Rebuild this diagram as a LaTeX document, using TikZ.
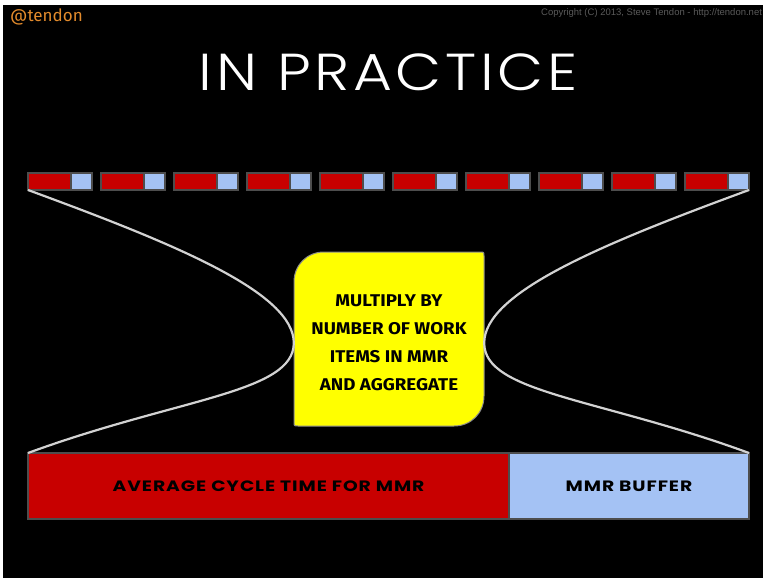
\documentclass[tikz,border=0pt]{standalone}
\usepackage{fontspec}
\usepackage{graphicx}
\usetikzlibrary{calc}
\setmainfont{Liberation Sans}
\newfontfamily\titlefont{Poppins Light}[LetterSpace=6]
\newfontfamily\labelfont{Poppins}[LetterSpace=5]
\newfontfamily\handfont{Fira Sans}
\newfontfamily\tagfont{Fira Sans}
\newcommand{\widetext}[2]{\scalebox{#1}[1]{#2}}

\definecolor{mmrred}{HTML}{C80000}
\definecolor{mmrblue}{HTML}{A4C2F4}
\definecolor{edgegray}{HTML}{4D4D4D}
\definecolor{curvegray}{HTML}{D2D2D2}
\definecolor{noteyellow}{HTML}{FFFF00}
\definecolor{notegray}{HTML}{8A8A8A}
\definecolor{tagorange}{HTML}{E38B2C}
\definecolor{copygray}{HTML}{5A5A5A}

\begin{document}
\begin{tikzpicture}[x=1pt,y=-1pt,
  cell/.style={draw=edgegray, line width=1.3pt, inner sep=0pt, outer sep=0pt, anchor=north west},
  redcell/.style={cell, fill=mmrred},
  bluecell/.style={cell, fill=mmrblue},
  barlabel/.style={font=\labelfont\bfseries\fontsize{15}{18}\selectfont, text=black},
  funnel/.style={draw=curvegray, line width=2.2pt}
]
\useasboundingbox (0,0) rectangle (765,578);
\fill[white] (0,0) rectangle (765,578);
\fill[black] (3,5) rectangle (763,578);

% header texts
\node[anchor=west, text=tagorange, font=\tagfont\fontsize{17}{20}\selectfont, inner sep=0pt] (tag) at (10,17) {@tendon};
\node[anchor=west, text=copygray, font=\fontsize{9.5}{11}\selectfont, inner sep=0pt] (copy) at (541,13) {Copyright (C) 2013, Steve Tendon - http://tendon.net};
\node[text=white, font=\titlefont\fontsize{52}{60}\selectfont, inner sep=0pt] (title) at (388,72) {\widetext{1.15}{IN PRACTICE}};

% strip of small work items
\foreach \i in {0,...,9} {
  \node[redcell, minimum width=43, minimum height=17] (r\i) at ({28+73*\i},173) {};
  \node[bluecell, minimum width=21, minimum height=17] (u\i) at (r\i.north east) {};
}

% bottom bar
\node[redcell, minimum width=481, minimum height=66, barlabel] (avg) at (28,453) {\widetext{1.25}{AVERAGE CYCLE TIME FOR MMR}};
\node[bluecell, minimum width=240, minimum height=66, barlabel] (buf) at (avg.north east) {\widetext{1.25}{MMR BUFFER}};

% note card
\draw[draw=notegray, fill=noteyellow, line width=1pt]
  (294,282) .. controls (294,265) and (307,252) .. (324,252) -- (480,252)
  .. controls (484,252) .. (484,256) -- (484,396)
  .. controls (484,413) and (471,426) .. (454,426) -- (298,426)
  .. controls (294,426) .. (294,422) -- cycle;
\node[minimum width=190, minimum height=174, inner sep=0pt, align=center,
      font=\handfont\bfseries\fontsize{17}{28}\selectfont] (note) at (389,343)
  {\widetext{1.1}{MULTIPLY BY}\\\widetext{1.1}{NUMBER OF WORK}\\\widetext{1.1}{ITEMS IN MMR}\\\widetext{1.1}{AND AGGREGATE}};

% funnel curves
\draw[funnel] (r0.south west)
  .. controls ($(r0.south west)+(150,55)$) and ($(note.west)+(0,-50)$) .. (note.west)
  .. controls ($(note.west)+(0,50)$) and ($(avg.north west)+(150,-55)$) .. (avg.north west);
\draw[funnel] (u9.south east)
  .. controls ($(u9.south east)+(-150,55)$) and ($(note.east)+(0,-50)$) .. (note.east)
  .. controls ($(note.east)+(0,50)$) and ($(buf.north east)+(-150,-55)$) .. (buf.north east);
\end{tikzpicture}
\end{document}
